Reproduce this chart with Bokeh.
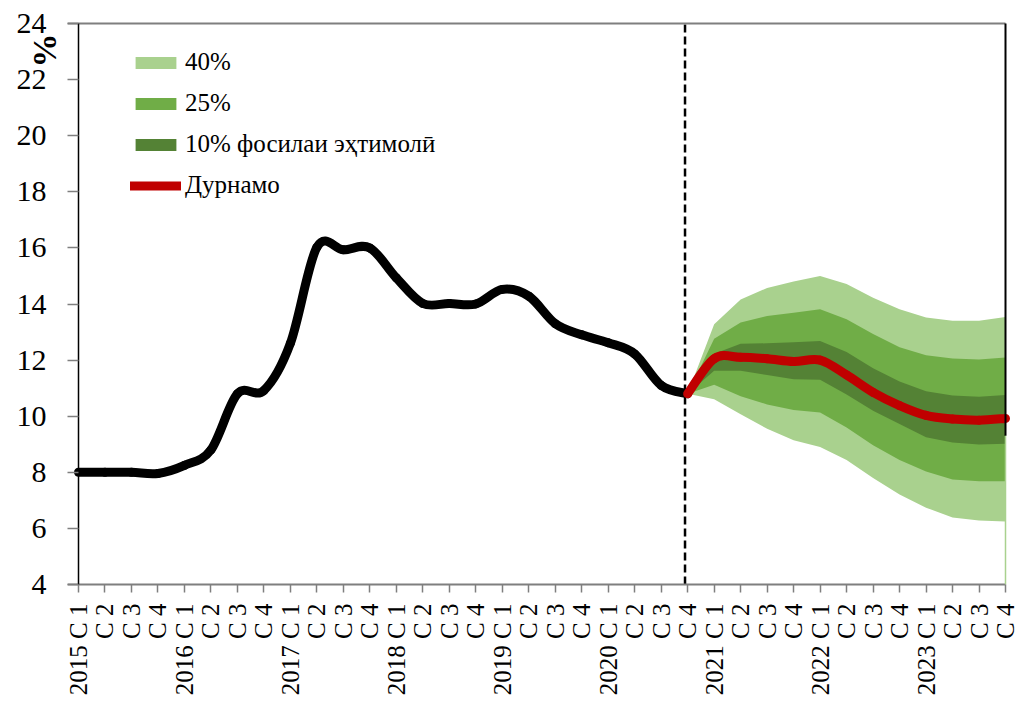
from math import pi
from bokeh.plotting import figure
from bokeh.models import Range1d, FixedTicker, Legend, LegendItem, Label
from bokeh.embed import file_html
from bokeh.resources import INLINE

# ---------------- data ----------------
quarter_labels = [
    "2015 C 1", "C 2", "C 3", "C 4",
    "2016 C 1", "C 2", "C 3", "C 4",
    "2017 C 1", "C 2", "C 3", "C 4",
    "2018 C 1", "C 2", "C 3", "C 4",
    "2019 C 1", "C 2", "C 3", "C 4",
    "2020 C 1", "C 2", "C 3", "C 4",
    "2021 C 1", "C 2", "C 3", "C 4",
    "2022 C 1", "C 2", "C 3", "C 4",
    "2023 C 1", "C 2", "C 3", "C 4",
]

# actual (2015 C1 .. 2020 C4)
actual = [8.0, 8.0, 8.0, 7.96, 8.25, 8.8, 10.8, 10.92, 12.6, 16.02, 15.93, 16.0,
          14.93, 14.02, 14.02, 14.0, 14.52, 14.28, 13.3, 12.9, 12.62, 12.22, 11.1, 10.8]

# forecast (2020 C4 .. 2023 C4)
median = [10.8, 12.05, 12.1, 12.05, 11.95, 12.0, 11.47, 10.85, 10.38, 10.03, 9.9, 9.86, 9.92]
hi40 = [10.8, 13.28, 14.16, 14.57, 14.8, 15.0, 14.71, 14.22, 13.81, 13.52, 13.4, 13.4, 13.54]
hi25 = [10.8, 12.76, 13.34, 13.57, 13.69, 13.81, 13.46, 12.93, 12.46, 12.17, 12.06, 12.02, 12.09]
hi10 = [10.8, 12.23, 12.58, 12.6, 12.64, 12.68, 12.29, 11.71, 11.24, 10.89, 10.74, 10.69, 10.76]
lo10 = [10.8, 11.62, 11.62, 11.47, 11.32, 11.3, 10.77, 10.19, 9.72, 9.25, 9.06, 8.99, 9.02]
lo25 = [10.8, 11.12, 10.71, 10.42, 10.22, 10.13, 9.6, 8.96, 8.44, 8.03, 7.74, 7.68, 7.68]
lo40 = [10.8, 10.6, 10.07, 9.55, 9.14, 8.9, 8.44, 7.8, 7.21, 6.74, 6.39, 6.28, 6.25]

legend_labels = ["40%", "25%", "10% фосилаи эҳтимолӣ", "Дурнамо"]
y_title = "%"
y_ticks = [4, 6, 8, 10, 12, 14, 16, 18, 20, 22, 24]

forecast_start = 22.9      # dashed separator position (just left of 2020 C4)
right_line_split = 9.3     # where the right-hand frame line changes colour
axis_overhang = -0.41      # horizontal axis lines start a tick-length left of the y axis

# ---------------- layout (pixels) ----------------
W, H = 1019, 699
X_FIRST, X_LAST = 78, 1005     # pixel of first / last category
Y_TOP, Y_BOT = 23, 584         # pixel of y=24 / y=4

n = len(quarter_labels)
dx = (X_LAST - X_FIRST) / (n - 1)
ymin, ymax = y_ticks[0], y_ticks[-1]
dy = (Y_BOT - Y_TOP) / (ymax - ymin)
x_range = Range1d(-X_FIRST / dx, (W - X_FIRST) / dx)
y_range = Range1d(ymin - (H - Y_BOT) / dy, ymax + Y_TOP / dy)

x_all = list(range(n))
x_act = x_all[:len(actual)]
x_fc = x_all[len(actual) - 1:]

FONT = "Liberation Serif"
LIGHT, MID, DARK, RED = "#A9D18E", "#70AD47", "#548235", "#C00000"
GREY = "#7f7f7f"


def smooth_segments(xs, ys):
    """Excel-like smoothed line: cubic Bezier segments through the data points."""
    m = len(xs)
    out = dict(x0=[], y0=[], x1=[], y1=[], cx0=[], cy0=[], cx1=[], cy1=[])
    for k in range(m - 1):
        xm, ym = (xs[k - 1], ys[k - 1]) if k > 0 else (xs[k], ys[k])
        xa, ya = xs[k], ys[k]
        xb, yb = xs[k + 1], ys[k + 1]
        xp, yp = (xs[k + 2], ys[k + 2]) if k + 2 < m else (xs[k + 1], ys[k + 1])
        out["x0"].append(xa); out["y0"].append(ya)
        out["x1"].append(xb); out["y1"].append(yb)
        out["cx0"].append(xa + (xb - xm) / 6.0); out["cy0"].append(ya + (yb - ym) / 6.0)
        out["cx1"].append(xb - (xp - xa) / 6.0); out["cy1"].append(yb - (yp - ya) / 6.0)
    return out


# ---------------- figure ----------------
p = figure(width=W, height=H, output_backend="svg", toolbar_location=None,
           x_range=x_range, y_range=y_range, min_border=0)
p.outline_line_color = None
p.xgrid.visible = False
p.ygrid.visible = False
p.background_fill_color = "white"
p.border_fill_color = "white"

r40 = p.varea(x=x_fc, y1=lo40, y2=hi40, fill_color=LIGHT)
r25 = p.varea(x=x_fc, y1=lo25, y2=hi25, fill_color=MID)
r10 = p.varea(x=x_fc, y1=lo10, y2=hi10, fill_color=DARK)

# dashed separator and top / bottom frame lines
p.segment(x0=[forecast_start], y0=[ymin], x1=[forecast_start], y1=[ymax],
          line_color="black", line_width=2.5, line_dash="8 4")
p.segment(x0=[axis_overhang], y0=[ymax], x1=[x_all[-1]], y1=[ymax],
          line_color=GREY, line_width=2)
p.segment(x0=[axis_overhang], y0=[ymin], x1=[x_all[-1]], y1=[ymin],
          line_color=GREY, line_width=2)

p.bezier(**smooth_segments(x_act, actual), line_color="black", line_width=9, line_cap="round")
rmed = p.bezier(**smooth_segments(x_fc, median), line_color=RED, line_width=9, line_cap="round")

p.segment(x0=[x_all[-1]], y0=[right_line_split], x1=[x_all[-1]], y1=[ymax],
          line_color="black", line_width=2)
p.segment(x0=[x_all[-1]], y0=[ymin], x1=[x_all[-1]], y1=[right_line_split],
          line_color=LIGHT, line_width=1.5)

# axes (fixed inside the full-canvas frame)
p.xaxis.fixed_location = ymin
p.xaxis.ticker = FixedTicker(ticks=x_all)
p.xaxis.major_label_overrides = {i: lab for i, lab in zip(x_all, quarter_labels)}
p.xaxis.major_label_orientation = pi / 2
p.xaxis.major_label_text_font = FONT
p.xaxis.major_label_text_font_size = "25px"
p.xaxis.major_label_text_color = "black"
p.xaxis.major_label_standoff = 11
p.xaxis.axis_line_color = None
p.xaxis.major_tick_line_color = GREY
p.xaxis.major_tick_line_width = 1.5
p.xaxis.major_tick_out = 8
p.xaxis.major_tick_in = 0
p.xaxis.minor_tick_line_color = None

p.yaxis.fixed_location = 0
p.yaxis.bounds = (ymin, ymax)
p.yaxis.ticker = FixedTicker(ticks=y_ticks)
p.yaxis.major_label_text_font = FONT
p.yaxis.major_label_text_font_size = "30px"
p.yaxis.major_label_text_color = "black"
p.yaxis.major_label_standoff = 21
p.yaxis.axis_line_color = "black"
p.yaxis.axis_line_width = 1.5
p.yaxis.major_tick_line_color = GREY
p.yaxis.major_tick_line_width = 1.5
p.yaxis.major_tick_out = 11
p.yaxis.major_tick_in = 0
p.yaxis.minor_tick_line_color = None

p.add_layout(Label(x=44, y=ymax - 10 / dy, x_units="screen", y_units="data", text=y_title,
                   angle=pi / 2, text_align="right", text_baseline="middle",
                   text_font=FONT, text_font_size="34px", text_font_style="bold",
                   text_color="black"))

legend = Legend(items=[LegendItem(label=legend_labels[0], renderers=[r40]),
                       LegendItem(label=legend_labels[1], renderers=[r25]),
                       LegendItem(label=legend_labels[2], renderers=[r10]),
                       LegendItem(label=legend_labels[3], renderers=[rmed])],
                location=(130, 500), padding=0, margin=0, spacing=13,
                glyph_width=51, glyph_height=15, label_standoff=4,
                label_text_font=FONT, label_text_font_size="25px", label_text_color="black",
                border_line_color=None, background_fill_alpha=0)
p.add_layout(legend)

open("out.html", "w").write(file_html(p, INLINE))
